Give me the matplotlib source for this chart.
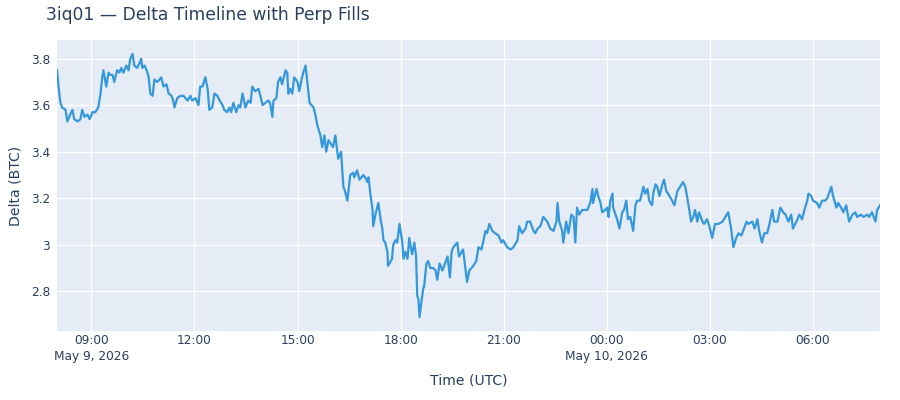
import pandas as pd
import matplotlib
matplotlib.use("Agg")
import matplotlib.pyplot as plt
from matplotlib.ticker import FuncFormatter

# minutes after 2026-05-09 08:00 UTC, delta in BTC
minutes = [
    0, 2, 4, 6, 9, 15, 18, 23, 27, 30, 36, 41, 44, 48, 53, 57, 62, 67, 72, 76,
    79, 81, 86, 90, 93, 97, 100, 105, 109, 112, 116, 121, 125, 128, 132, 135, 140, 144, 147, 149,
    153, 158, 160, 163, 167, 170, 175, 179, 182, 186, 191, 195, 200, 203, 205, 210, 215, 221, 228, 233,
    236, 242, 247, 250, 254, 259, 263, 266, 271, 275, 280, 284, 289, 292, 297, 301, 304, 308, 313, 317,
    320, 324, 329, 334, 338, 341, 346, 352, 355, 359, 364, 369, 372, 376, 378, 383, 386, 390, 393, 399,
    402, 404, 407, 411, 414, 420, 423, 427, 430, 434, 437, 441, 448, 451, 455, 460, 463, 467, 470, 474,
    479, 482, 486, 491, 496, 500, 503, 507, 512, 517, 519, 524, 528, 535, 538, 542, 544, 547, 551, 552,
    556, 561, 565, 568, 570, 573, 577, 578, 585, 587, 591, 594, 598, 603, 605, 608, 612, 615, 620, 624,
    627, 629, 631, 633, 636, 640, 641, 645, 648, 652, 657, 661, 664, 668, 673, 676, 682, 686, 689, 692,
    699, 702, 709, 713, 716, 720, 727, 732, 736, 741, 744, 748, 751, 755, 760, 765, 771, 776, 779, 786,
    792, 797, 804, 807, 812, 818, 821, 826, 832, 835, 839, 844, 849, 856, 861, 867, 872, 874, 877, 882,
    884, 889, 893, 898, 902, 905, 908, 912, 917, 926, 931, 935, 936, 942, 945, 949, 952, 957, 961, 963,
    966, 970, 971, 978, 982, 987, 990, 994, 997, 1001, 1006, 1010, 1013, 1018, 1024, 1027, 1031, 1034, 1039, 1041,
    1045, 1048, 1052, 1057, 1060, 1064, 1067, 1074, 1078, 1083, 1088, 1093, 1097, 1100, 1104, 1107, 1111, 1114, 1118, 1121,
    1127, 1130, 1135, 1139, 1144, 1149, 1155, 1162, 1167, 1172, 1177, 1181, 1186, 1190, 1195, 1198, 1204, 1207, 1214, 1218,
    1223, 1226, 1231, 1235, 1240, 1244, 1249, 1252, 1258, 1263, 1268, 1272, 1277, 1282, 1285, 1293, 1296, 1301, 1305, 1310,
    1312, 1317, 1320, 1327, 1331, 1336, 1341, 1345, 1352, 1355, 1361, 1364, 1369, 1373, 1378, 1383, 1389, 1394, 1397, 1404,
    1408, 1415, 1418, 1423, 1429, 1432, 1437,
]
delta = [
    3.75, 3.70, 3.65, 3.61, 3.59, 3.58, 3.53, 3.56, 3.58, 3.54, 3.53, 3.54, 3.58, 3.55, 3.56, 3.54, 3.57, 3.57, 3.59, 3.65,
    3.72, 3.75, 3.68, 3.74, 3.73, 3.73, 3.70, 3.75, 3.74, 3.76, 3.74, 3.77, 3.75, 3.80, 3.82, 3.77, 3.76, 3.78, 3.80, 3.76,
    3.77, 3.74, 3.72, 3.65, 3.64, 3.71, 3.70, 3.71, 3.72, 3.68, 3.69, 3.65, 3.64, 3.62, 3.59, 3.63, 3.64, 3.64, 3.62, 3.64,
    3.62, 3.63, 3.60, 3.68, 3.68, 3.72, 3.67, 3.58, 3.59, 3.65, 3.64, 3.62, 3.60, 3.58, 3.57, 3.59, 3.57, 3.61, 3.57, 3.60,
    3.59, 3.65, 3.59, 3.62, 3.61, 3.68, 3.66, 3.67, 3.64, 3.60, 3.61, 3.62, 3.61, 3.55, 3.62, 3.63, 3.70, 3.72, 3.69, 3.75,
    3.74, 3.65, 3.67, 3.65, 3.72, 3.70, 3.66, 3.71, 3.74, 3.77, 3.70, 3.61, 3.59, 3.56, 3.51, 3.47, 3.42, 3.47, 3.40, 3.45,
    3.43, 3.42, 3.47, 3.37, 3.40, 3.25, 3.23, 3.19, 3.30, 3.31, 3.29, 3.32, 3.28, 3.30, 3.29, 3.27, 3.29, 3.22, 3.15, 3.08,
    3.13, 3.18, 3.11, 3.07, 3.02, 3.01, 2.97, 2.91, 2.94, 3.00, 3.02, 3.01, 3.09, 3.01, 2.94, 2.97, 2.94, 3.03, 2.96, 3.01,
    2.95, 2.78, 2.77, 2.69, 2.75, 2.82, 2.82, 2.92, 2.93, 2.90, 2.90, 2.89, 2.85, 2.92, 2.89, 2.91, 2.95, 2.86, 2.97, 2.99,
    3.01, 2.95, 2.98, 2.90, 2.84, 2.89, 2.91, 2.93, 2.99, 2.98, 3.01, 3.06, 3.05, 3.09, 3.06, 3.05, 3.04, 3.01, 3.02, 2.99,
    2.98, 2.99, 3.02, 3.08, 3.05, 3.07, 3.10, 3.10, 3.06, 3.05, 3.07, 3.08, 3.12, 3.10, 3.07, 3.06, 3.10, 3.18, 3.10, 3.06,
    3.01, 3.10, 3.05, 3.13, 3.12, 3.01, 3.16, 3.13, 3.15, 3.15, 3.18, 3.24, 3.18, 3.24, 3.21, 3.18, 3.14, 3.15, 3.16, 3.12,
    3.19, 3.22, 3.16, 3.11, 3.07, 3.14, 3.15, 3.19, 3.11, 3.12, 3.06, 3.17, 3.19, 3.19, 3.25, 3.22, 3.24, 3.19, 3.17, 3.22,
    3.26, 3.25, 3.21, 3.26, 3.28, 3.23, 3.22, 3.19, 3.17, 3.23, 3.25, 3.27, 3.25, 3.21, 3.15, 3.10, 3.12, 3.15, 3.10, 3.14,
    3.10, 3.09, 3.11, 3.08, 3.03, 3.09, 3.09, 3.10, 3.12, 3.14, 3.07, 2.99, 3.03, 3.05, 3.04, 3.06, 3.10, 3.09, 3.10, 3.07,
    3.11, 3.06, 3.01, 3.05, 3.05, 3.09, 3.15, 3.10, 3.10, 3.16, 3.14, 3.13, 3.10, 3.13, 3.07, 3.11, 3.13, 3.11, 3.15, 3.19,
    3.22, 3.21, 3.19, 3.18, 3.16, 3.19, 3.19, 3.20, 3.25, 3.21, 3.16, 3.18, 3.16, 3.14, 3.17, 3.10, 3.13, 3.14, 3.12, 3.13,
    3.12, 3.13, 3.12, 3.14, 3.10, 3.15, 3.17,
]

tick_times = ["2026-05-09 09:00", "2026-05-09 12:00", "2026-05-09 15:00", "2026-05-09 18:00",
              "2026-05-09 21:00", "2026-05-10 00:00", "2026-05-10 03:00", "2026-05-10 06:00"]
tick_labels = ["09:00\nMay 9, 2026", "12:00", "15:00", "18:00",
               "21:00", "00:00\nMay 10, 2026", "03:00", "06:00"]
y_ticks = [2.8, 3.0, 3.2, 3.4, 3.6, 3.8]

start = pd.Timestamp("2026-05-09 08:00")
times = start + pd.to_timedelta(minutes, unit="min")

plt.rcParams['font.family'] = ['DejaVu Sans']
text_col = "#2a3f5f"

fig = plt.figure(figsize=(9, 4), dpi=100)
ax = fig.add_axes([57/900, 1 - 331/400, 823/900, 291/400])
ax.set_facecolor("#E5ECF6")

ax.plot(times, delta, color="#3498db", lw=1.6, solid_joinstyle="round")

ax.set_xlim(times[0], times[-1])
ax.set_ylim(2.63, 3.88)

ax.set_xticks(pd.to_datetime(tick_times), tick_labels)
ax.set_yticks(y_ticks)
ax.yaxis.set_major_formatter(FuncFormatter(lambda v, p: f"{v:g}"))

ax.grid(True, color="white", lw=1)
ax.set_axisbelow(True)
for s in ax.spines.values():
    s.set_visible(False)
ax.tick_params(length=0, labelsize=8.7, labelcolor=text_col)
ax.tick_params(axis="x", pad=2)
ax.tick_params(axis="y", pad=5)
for lbl in ax.get_xticklabels():
    lbl.set_linespacing(1.3)
    lbl.set_verticalalignment("top")

ax.set_xlabel("Time (UTC)", fontsize=10.1, color=text_col, labelpad=8)
ax.set_ylabel("Delta (BTC)", fontsize=10.1, color=text_col, labelpad=6)

fig.text(46/900, 1 - 15/400, "3iq01 — Delta Timeline with Perp Fills",
         fontsize=12.3, color=text_col, va="center", ha="left")

fig.savefig("out.png", dpi=100)
